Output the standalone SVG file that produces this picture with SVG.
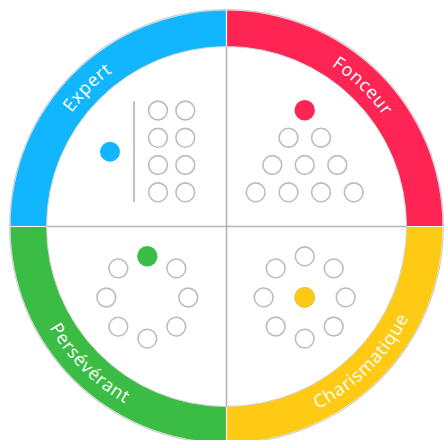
<svg xmlns="http://www.w3.org/2000/svg" xmlns:xlink="http://www.w3.org/1999/xlink" width="444" height="440" viewBox="0 0 444 440">
<style>
.ring{stroke:none}
.lbl{font-family:"Open Sans","DejaVu Sans",sans-serif;font-size:18px;fill:#ffffff;letter-spacing:0.7px}
.c{fill:#ffffff;stroke:#bdbdbd;stroke-width:1.6}
.div{stroke:#b3b3bb;stroke-width:1.6;fill:none}
</style>
<defs>
<path id="pExpert" d="M 34.5 226.5 A 192 192 0 0 1 226.5 34.5"/>
<path id="pFonceur" d="M 226.5 34.5 A 192 192 0 0 1 418.5 226.5"/>
<path id="pPers" d="M 22.5 226.5 A 204 204 0 0 0 226.5 430.5"/>
<path id="pChar" d="M 226.5 430.5 A 204 204 0 0 0 430.5 226.5"/>
</defs>
<rect width="444" height="440" fill="#ffffff"/>
<g id="ring">
<circle cx="226.5" cy="226.5" r="216.8" fill="none" stroke="#cfcfcf" stroke-width="1.2"/>
<path class="ring" fill="#12b6fe" d="M 10.5 226.5 A 216 216 0 0 1 226.5 10.5 L 226.5 46.5 A 180 180 0 0 0 46.5 226.5 Z"/>
<path class="ring" fill="#fe2454" d="M 226.5 10.5 A 216 216 0 0 1 442.5 226.5 L 406.5 226.5 A 180 180 0 0 0 226.5 46.5 Z"/>
<path class="ring" fill="#feca14" d="M 442.5 226.5 A 216 216 0 0 1 226.5 442.5 L 226.5 406.5 A 180 180 0 0 0 406.5 226.5 Z"/>
<path class="ring" fill="#3bbd45" d="M 226.5 442.5 A 216 216 0 0 1 10.5 226.5 L 46.5 226.5 A 180 180 0 0 0 226.5 406.5 Z"/>
<line x1="10" y1="226.5" x2="47" y2="226.5" stroke="#ffffff" stroke-width="1.2"/>
<line x1="406" y1="226.5" x2="443" y2="226.5" stroke="#ffffff" stroke-width="1.2"/>
<line x1="226.5" y1="10" x2="226.5" y2="47" stroke="#ffffff" stroke-width="1.2"/>
<line x1="226.5" y1="406" x2="226.5" y2="443" stroke="#ffffff" stroke-width="1.2"/>
<circle cx="226.5" cy="226.5" r="180" fill="none" stroke="#d2d2d2" stroke-width="1"/>
</g>
<g id="connectors">
<line class="div" x1="46.5" y1="226.5" x2="406.5" y2="226.5"/>
<line class="div" x1="226.5" y1="46.5" x2="226.5" y2="406.5"/>
</g>
<g id="label-expert"><text class="lbl"><textPath xlink:href="#pExpert" startOffset="50%" text-anchor="middle">Expert</textPath></text></g>
<g id="label-fonceur"><text class="lbl"><textPath xlink:href="#pFonceur" startOffset="49%" text-anchor="middle">Fonceur</textPath></text></g>
<g id="label-perseverant"><text class="lbl"><textPath xlink:href="#pPers" startOffset="50%" text-anchor="middle">Persévérant</textPath></text></g>
<g id="label-charismatique"><text class="lbl"><textPath xlink:href="#pChar" startOffset="50%" text-anchor="middle">Charismatique</textPath></text></g>
<g id="expert">
<circle cx="110" cy="151.7" r="10" fill="#12b6fe"/>
<line x1="134" y1="101" x2="134" y2="202" stroke="#b3b3bb" stroke-width="1.6"/>
<circle class="c" cx="158" cy="110.5" r="9.4"/><circle class="c" cx="185.3" cy="110.5" r="9.4"/>
<circle class="c" cx="158" cy="137.8" r="9.4"/><circle class="c" cx="185.3" cy="137.8" r="9.4"/>
<circle class="c" cx="158" cy="165" r="9.4"/><circle class="c" cx="185.3" cy="165" r="9.4"/>
<circle class="c" cx="158" cy="192.3" r="9.4"/><circle class="c" cx="185.3" cy="192.3" r="9.4"/>
</g>
<g id="fonceur">
<circle cx="304.7" cy="110.3" r="10.2" fill="#fe2454"/>
<circle class="c" cx="288.5" cy="137.7" r="9.4"/><circle class="c" cx="321" cy="137.7" r="9.4"/>
<circle class="c" cx="272.3" cy="165" r="9.4"/><circle class="c" cx="304.7" cy="165" r="9.4"/><circle class="c" cx="337.3" cy="165" r="9.4"/>
<circle class="c" cx="255.7" cy="192.3" r="9.4"/><circle class="c" cx="288.5" cy="192.3" r="9.4"/><circle class="c" cx="321" cy="192.3" r="9.4"/><circle class="c" cx="353.7" cy="192.3" r="9.4"/>
</g>
<g id="perseverant">
<circle cx="147.3" cy="256.3" r="10.2" fill="#3bbd45"/>
<circle class="c" cx="176.3" cy="268.4" r="9.4"/>
<circle class="c" cx="188.3" cy="297.5" r="9.4"/>
<circle class="c" cx="176.3" cy="326.6" r="9.4"/>
<circle class="c" cx="147.3" cy="338.6" r="9.4"/>
<circle class="c" cx="118.3" cy="326.6" r="9.4"/>
<circle class="c" cx="106.3" cy="297.5" r="9.4"/>
<circle class="c" cx="118.3" cy="268.4" r="9.4"/>
</g>
<g id="charismatique">
<circle cx="304.7" cy="297.4" r="10" fill="#feca14" stroke="#d8b43a" stroke-width="0.8"/>
<circle class="c" cx="304.7" cy="256.3" r="9.4"/>
<circle class="c" cx="333.7" cy="268.4" r="9.4"/>
<circle class="c" cx="345.7" cy="297.4" r="9.4"/>
<circle class="c" cx="333.7" cy="326.5" r="9.4"/>
<circle class="c" cx="304.7" cy="338.6" r="9.4"/>
<circle class="c" cx="275.7" cy="326.5" r="9.4"/>
<circle class="c" cx="263.7" cy="297.4" r="9.4"/>
<circle class="c" cx="275.7" cy="268.4" r="9.4"/>
</g>
</svg>
